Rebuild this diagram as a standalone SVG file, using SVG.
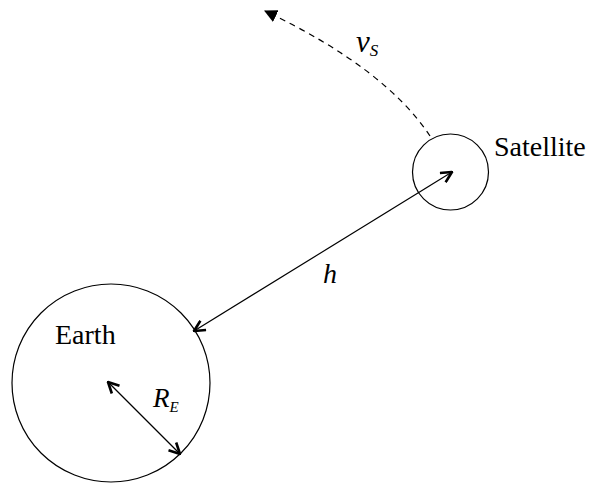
<svg xmlns="http://www.w3.org/2000/svg" width="590" height="485" viewBox="0 0 590 485">
<style>
.body{fill:none;stroke:#000;stroke-width:1.2}
.line{fill:none;stroke:#000;stroke-width:1.2}
.dash{fill:none;stroke:#000;stroke-width:1.2;stroke-dasharray:6 5}
.lbl{font-family:"Liberation Serif",serif;font-size:28px;fill:#000}
.it{font-family:"Liberation Serif",serif;font-style:italic;fill:#000}
</style>
<defs>
<marker id="open" viewBox="0 0 12 12" refX="11" refY="6" markerWidth="13" markerHeight="13" markerUnits="userSpaceOnUse" orient="auto-start-reverse">
<path d="M1,1 L11,6 L1,11" fill="none" stroke="#000" stroke-width="2.4"/>
</marker>
<marker id="tri" viewBox="0 0 12 12" refX="11" refY="6" markerWidth="13" markerHeight="13" markerUnits="userSpaceOnUse" orient="auto">
<path d="M0,0 L12,6 L0,12 Z" fill="#000"/>
</marker>
</defs>
<g id="earth">
<circle class="body" cx="111" cy="383" r="99"/>
<text class="lbl" x="55" y="344">Earth</text>
</g>
<g id="satellite">
<circle class="body" cx="450.5" cy="172" r="38"/>
<text class="lbl" x="494" y="156">Satellite</text>
</g>
<g id="connectors">
<line class="line" x1="194" y1="331" x2="452" y2="172" marker-start="url(#open)" marker-end="url(#open)"/>
<line class="line" x1="108" y1="382" x2="180" y2="454" marker-start="url(#open)" marker-end="url(#open)"/>
<path class="dash" d="M430,136 Q385,68 265,11" marker-end="url(#tri)"/>
</g>
<g id="labels">
<text class="it" x="323" y="283" font-size="28">h</text>
<text class="it" x="153" y="407" font-size="27">R<tspan font-size="15" dy="5">E</tspan></text>
<text class="it" x="356" y="52" font-size="31">v<tspan font-size="17" dy="4">S</tspan></text>
</g>
</svg>
